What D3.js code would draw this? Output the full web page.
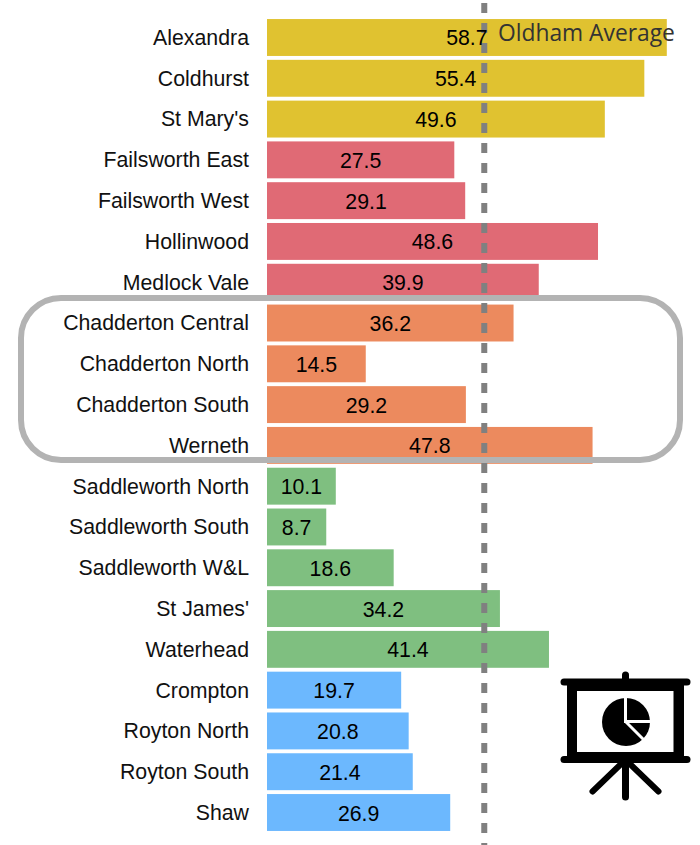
<!DOCTYPE html>
<html>
<head>
<meta charset="utf-8">
<script src="https://cdn.jsdelivr.net/npm/d3@7"></script>
<style>
    html, body { margin: 0; padding: 0; background: #fff; }
    svg { display: block; }
</style>
</head>
<body>
<svg></svg>
<script>
const wards = ["Alexandra", "Coldhurst", "St Mary's", "Failsworth East", "Failsworth West", "Hollinwood", "Medlock Vale",
    "Chadderton Central", "Chadderton North", "Chadderton South", "Werneth",
    "Saddleworth North", "Saddleworth South", "Saddleworth W&L", "St James'", "Waterhead",
    "Crompton", "Royton North", "Royton South", "Shaw"];
const values = [58.7, 55.4, 49.6, 27.5, 29.1, 48.6, 39.9, 36.2, 14.5, 29.2, 47.8, 10.1, 8.7, 18.6, 34.2, 41.4, 19.7, 20.8, 21.4, 26.9];
const groups = ["a", "a", "a", "b", "b", "b", "b", "c", "c", "c", "c", "d", "d", "d", "d", "d", "e", "e", "e", "e"];
const groupNames = ["a", "b", "c", "d", "e"];
const groupColors = ["#e0c230", "#e06a75", "#ec8a5e", "#7fbf80", "#6cb8fe"];
const oldhamAverage = 31.9;

var svgWidth = 700,
    svgHeight = 845;

var svg = d3.select("svg")
    .attr("width", svgWidth)
    .attr("height", svgHeight);

var color = d3.scaleOrdinal().domain(groupNames).range(groupColors);

var x = d3.scaleLinear().domain([0, 58.7]).range([267, 666.8]);

var y = d3.scaleBand()
    .domain(wards)
    .range([17, 833])
    .paddingInner(0.095)
    .paddingOuter(0.05);

//bars
svg.selectAll("rect.bar")
    .data(wards)
    .enter()
    .append("rect")
    .attr("class", "bar")
    .attr("x", x(0))
    .attr("y", d => y(d))
    .attr("width", (d, i) => x(values[i]) - x(0))
    .attr("height", y.bandwidth())
    .attr("fill", (d, i) => color(groups[i]));

//average line
svg.append("line")
    .attr("x1", x(oldhamAverage))
    .attr("x2", x(oldhamAverage))
    .attr("y1", 3)
    .attr("y2", svgHeight)
    .attr("stroke", "#808080")
    .attr("stroke-width", 6)
    .attr("stroke-dasharray", "10 10");

//ward names
svg.selectAll("text.ward")
    .data(wards)
    .enter()
    .append("text")
    .attr("class", "ward")
    .attr("x", 249)
    .attr("y", d => y(d) + y.bandwidth() / 2 + 7.4)
    .attr("text-anchor", "end")
    .attr("font-family", "Liberation Sans")
    .attr("font-size", 21.3)
    .attr("fill", "#111")
    .text(d => d);

//values in the middle of the bars
svg.selectAll("text.value")
    .data(wards)
    .enter()
    .append("text")
    .attr("class", "value")
    .attr("x", (d, i) => (x(0) + x(values[i])) / 2)
    .attr("y", d => y(d) + y.bandwidth() / 2 + 8)
    .attr("text-anchor", "middle")
    .attr("font-family", "Liberation Sans")
    .attr("font-size", 21.3)
    .attr("fill", "#000")
    .text((d, i) => values[i].toFixed(1));

svg.append("text")
    .attr("x", 498)
    .attr("y", 41)
    .attr("font-family", "Open Sans")
    .attr("font-size", 22.8)
    .attr("fill", "#333")
    .text("Oldham Average");

//box round the Chadderton wards
svg.append("rect")
    .attr("x", 21)
    .attr("y", 298)
    .attr("width", 659)
    .attr("height", 162)
    .attr("rx", 40)
    .attr("ry", 40)
    .attr("fill", "none")
    .attr("stroke", "#b3b3b3")
    .attr("stroke-width", 6);

//presentation icon
var icon = svg.append("g")
    .attr("stroke", "#000")
    .attr("stroke-linecap", "round")
    .attr("fill", "none");

icon.append("line").attr("x1", 564).attr("x2", 687).attr("y1", 682).attr("y2", 682).attr("stroke-width", 7);
icon.append("line").attr("x1", 564).attr("x2", 687).attr("y1", 759.5).attr("y2", 759.5).attr("stroke-width", 7);
icon.append("line").attr("x1", 625.5).attr("x2", 625.5).attr("y1", 675).attr("y2", 684).attr("stroke-width", 7);
icon.append("path")
    .attr("d", "M567,680H684V762H567ZM577,691V752H673.5V691Z")
    .attr("fill", "#000")
    .attr("fill-rule", "evenodd")
    .attr("stroke", "none");
icon.append("line").attr("x1", 625.5).attr("x2", 625.5).attr("y1", 760).attr("y2", 797).attr("stroke-width", 7);
icon.append("line").attr("x1", 622).attr("x2", 592.5).attr("y1", 763).attr("y2", 791.5).attr("stroke-width", 6);
icon.append("line").attr("x1", 629).attr("x2", 658.5).attr("y1", 763).attr("y2", 791.5).attr("stroke-width", 6);

//pie on the icon, white lines split the slices
var iconArc = d3.arc();
var pie = svg.append("g").attr("transform", "translate(626,722)");
pie.append("path")
    .attr("d", iconArc({ innerRadius: 0, outerRadius: 24, startAngle: 0, endAngle: 2 * Math.PI }))
    .attr("fill", "#000");
pie.append("path")
    .attr("d", "M-0.5,-26V-0.5H26M-0.5,-0.5L22,22")
    .attr("fill", "none")
    .attr("stroke", "#fff")
    .attr("stroke-width", 3);
</script>
</body>
</html>
